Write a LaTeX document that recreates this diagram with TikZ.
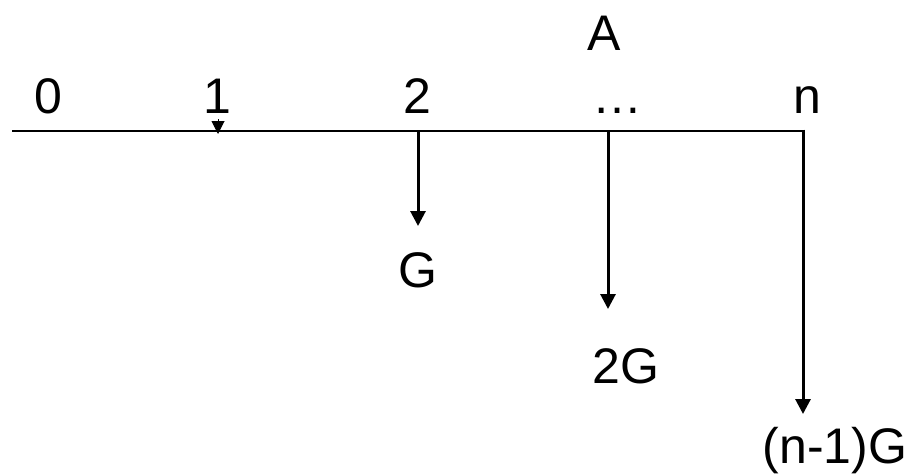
\documentclass[tikz,border=0pt]{standalone}
\usepackage{fontspec}
\setmainfont{Liberation Sans}
\usetikzlibrary{arrows.meta}
\begin{document}
\begin{tikzpicture}[x=1pt,y=-1pt,
  lbl/.style={anchor=base,inner sep=0pt,font=\fontsize{50}{56}\selectfont},
  axis/.style={line width=2.6pt},
  flow/.style={line width=3pt,-{Triangle[length=15pt,width=15pt]}},
  tinyflow/.style={line width=1pt,-{Triangle[length=13pt,width=13pt]}}]
\useasboundingbox (0,0) rectangle (909,474);
% axis
\coordinate (L) at (12,131);
\coordinate (R) at (804.5,131);
\draw[axis] (L) -- (R);
% labels
\node[lbl] (l0) at (48.5,113) {0};
\node[lbl] (l1) at (217,113) {1};
\node[lbl] (l2) at (417,113) {2};
\node[lbl] (ld) at (617,113) {…};
\node[lbl] (ln) at (807,113) {n};
\node[lbl] (la) at (604,50) {A};
\node[lbl] (g1) at (418,287) {G};
\node[lbl] (g2) at (626,383) {2G};
\node[lbl] (g3) at (835,463) {(n-1)G};
% arrow points
\coordinate (s1) at (218,119);
\coordinate (e1) at (218,134);
\coordinate (s2) at (418,131);
\coordinate (e2) at (418,226);
\coordinate (s3) at (608,131);
\coordinate (e3) at (608,309);
\coordinate (s4) at (803,129.7);
\coordinate (e4) at (803,414);
\draw[tinyflow] (s1) -- (e1);
\draw[flow] (s2) -- (e2);
\draw[flow] (s3) -- (e3);
\draw[flow] (s4) -- (e4);
\end{tikzpicture}
\end{document}
